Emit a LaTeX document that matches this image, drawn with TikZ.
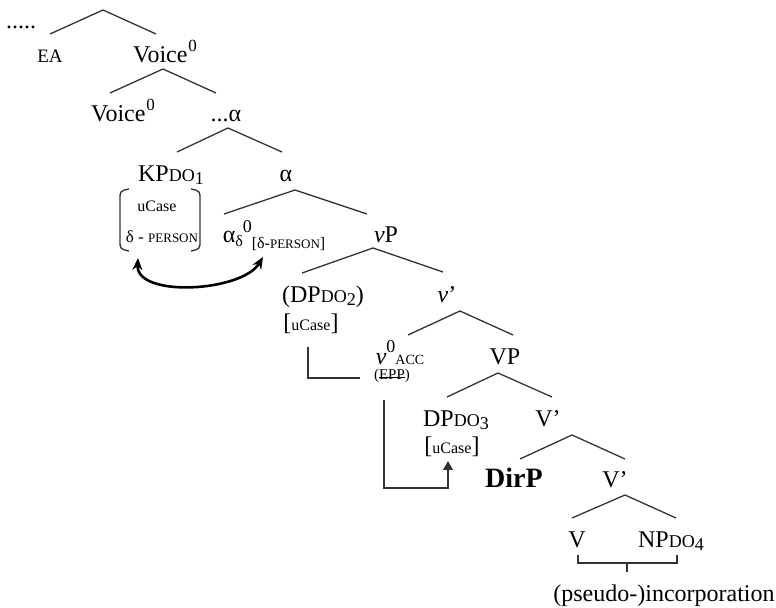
\documentclass[tikz,border=0pt]{standalone}
\usepackage{fontspec}
\setmainfont{Liberation Serif}
\usetikzlibrary{arrows.meta}
\newcommand\fsz[2]{{\fontsize{#1}{#1}\selectfont #2}}
\newcommand\dosc[1]{\fsz{9}{DO\raisebox{-1.5pt}{#1}}}
\newcommand\supz{\kern0.4pt\raisebox{5.5pt}{\fsz{8.5}{0}}}
\newsavebox\strkbox
\newcommand\strk[1]{\sbox\strkbox{#1}\rlap{\raisebox{0.3ex}{\rule{\wd\strkbox}{0.45pt}}}\usebox\strkbox}
\begin{document}
\begin{tikzpicture}[x=0.5pt,y=-0.5pt,
  lbl/.style={inner sep=0pt,anchor=base,font=\fontsize{12}{14}\selectfont},
  branch/.style={line width=0.65pt,draw=black!80},
  rulez/.style={line width=0.65pt,draw=black!80},
  curvy/.style={line width=1.3pt,draw=black,{Stealth[length=6pt,width=5pt]}-{Stealth[length=6pt,width=5pt]}}]
\useasboundingbox (0,0) rectangle (776,608);

% labels
\node[lbl] (dots) at (21,29) {.....};
\node[lbl,font=\fontsize{9.5}{11}\selectfont] (ea) at (50,63) {EA};
\node[lbl] (voiceA) at (165,63) {Voice\supz};
\node[lbl] (voiceB) at (123,122) {Voice\supz};
\node[lbl] (alphaA) at (226,122) {...α};
\node[lbl] (kp) at (171,182) {KP\dosc{1}};
\node[lbl] (alphaB) at (286,182) {α};
\node[lbl,font=\fontsize{8}{9}\selectfont] (ucaseA) at (157,212) {uCase};
\node[lbl] (persA) at (162,243) {\fsz{8.5}{δ - }\fsz{6.5}{PERSON}};
\node[lbl] (alphaC) at (274,243) {α\raisebox{-2pt}{\fsz{8}{δ}}\raisebox{5pt}{\fsz{9}{0}}\raisebox{-3pt}{\fsz{8}{[δ-\fsz{6.5}{PERSON}]}}};
\node[lbl] (vp) at (386,243) {\textit{v}P};
\node[lbl] (dp2) at (323,303) {(DP\dosc{2})};
\node[lbl] (ucaseB) at (311,331) {[\fsz{8}{uCase}]};
\node[lbl] (vbar) at (447,303) {\textit{v}’};
\node[lbl] (vzero) at (400,365) {\textit{v}\raisebox{6pt}{\fsz{9}{0}}\fsz{7}{ACC}};
\node[lbl,font=\fontsize{7.5}{8}\selectfont] (epp) at (392,380) {(\strk{EPP})};
\node[lbl] (VP) at (505,365) {VP};
\node[lbl] (dp3) at (456,427) {DP\dosc{3}};
\node[lbl] (ucaseC) at (452,454) {[\fsz{8}{uCase}]};
\node[lbl] (vbarA) at (548,427) {V’};
\node[lbl,font=\fontsize{14}{15}\selectfont\bfseries] (dirp) at (514,488) {DirP};
\node[lbl] (vbarB) at (615,488) {V’};
\node[lbl] (verb) at (577,548) {V};
\node[lbl] (np) at (671,548) {NP\dosc{4}};
\node[lbl] (incorp) at (664,602) {(pseudo-)incorporation};

% branches
\coordinate (t1) at (103,10);  \coordinate (l1) at (50,34);   \coordinate (r1) at (156,34);
\coordinate (t2) at (163,69);  \coordinate (l2) at (110,93);  \coordinate (r2) at (216,93);
\coordinate (t3) at (228,128); \coordinate (l3) at (177,152); \coordinate (r3) at (282,152);
\coordinate (t4) at (295,190); \coordinate (l4) at (224,214); \coordinate (r4) at (367,214);
\coordinate (t5) at (373,248); \coordinate (l5) at (302,273); \coordinate (r5) at (443,272);
\coordinate (t6) at (460,311); \coordinate (l6) at (408,335); \coordinate (r6) at (513,335);
\coordinate (t7) at (498,373); \coordinate (l7) at (447,397); \coordinate (r7) at (552,397);
\coordinate (t8) at (572,435); \coordinate (l8) at (520,459); \coordinate (r8) at (625,459);
\coordinate (t9) at (625,495); \coordinate (l9) at (572,518); \coordinate (r9) at (676,518);
\foreach \i in {1,...,9} {\draw[branch] (l\i) -- (t\i) -- (r\i);}

% feature brackets of KP
\coordinate (pl1) at (129,189); \coordinate (pl2) at (129,251);
\coordinate (pr1) at (191,189); \coordinate (pr2) at (191,251);
\draw[rulez] (pl1) .. controls (120,191) .. (120,200) -- (120,240) .. controls (120,249) .. (pl2);
\draw[rulez] (pr1) .. controls (200,191) .. (200,200) -- (200,240) .. controls (200,249) .. (pr2);

% agreement arrow
\coordinate (arrL) at (138,258); \coordinate (arrR) at (263,257);
\draw[curvy] (arrL) .. controls (136,298) and (242,292) .. (arrR);

% L-shaped line
\coordinate (la) at (308,347); \coordinate (lb) at (360,378);
\draw[rulez] (la) |- (lb);

% case arrow
\coordinate (ma) at (384,400); \coordinate (mc) at (448,488); \coordinate (mb) at (448,461);
\draw[rulez,-{Triangle[length=4.5pt,width=5pt]}] (ma) |- (mc) -- (mb);

% incorporation bracket
\coordinate (bl) at (578,555); \coordinate (br) at (677,555);
\coordinate (bm1) at (627,563); \coordinate (bm2) at (627,572);
\draw[rulez] (bl) |- (bm1) -| (br);
\draw[rulez] (bm1) -- (bm2);
\end{tikzpicture}
\end{document}
